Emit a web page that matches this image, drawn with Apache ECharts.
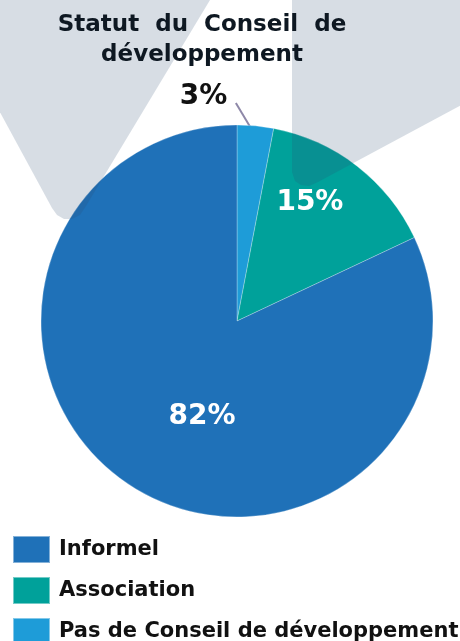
<!DOCTYPE html>
<html>
<head>
<meta charset="utf-8">
<script src="https://cdn.jsdelivr.net/npm/echarts@6/dist/echarts.min.js"></script>
<style>
  html, body { margin: 0; padding: 0; background: #ffffff; }
  #chart { width: 460px; height: 641px; }
</style>
</head>
<body>
<div id="chart"></div>
<script>
// Slices in drawing order, clockwise from 12 o'clock
const categories = ['Pas de Conseil de développement', 'Association', 'Informel'];
const values = [3, 15, 82];
const colors = ['#1e9cd8', '#00a19a', '#1f71b8'];
// Legend lists the statuses in this order
const legendOrder = ['Informel', 'Association', 'Pas de Conseil de développement'];

const FONT = '"DejaVu Sans", Verdana, sans-serif';
const CX = 237, CY = 321, R = 196;

// Label placement relative to each slice's mid angle: [radius fraction, angle shift (deg)]
const labelPlace = [[1.158, -13.9], [0.71, -6.2], [0.521, -12.4]];

const total = values.reduce((a, b) => a + b, 0);
const midAngles = [];
let acc = 0;
values.forEach(v => { midAngles.push((acc + v / 2) / total * 360); acc += v; });

function polar(rf, deg) {
  const a = deg * Math.PI / 180;
  return [CX + rf * R * Math.sin(a), CY - rf * R * Math.cos(a)];
}

const pieData = categories.map((name, i) => {
  const outside = values[i] < 5;
  return {
    name: name,
    value: values[i],
    itemStyle: { color: colors[i] },
    label: {
      position: outside ? 'outside' : 'inside',
      color: outside ? '#111111' : '#ffffff'
    },
    labelLine: { show: outside }
  };
});

// Translucent decorative bands laid over the background
const bandFill = 'rgba(44,74,110,0.19)';
const leftBand = [[-5, -5], [213, -5], [86, 206], [80, 215], [72, 219], [64, 219], [57, 215], [52, 208], [-5, 103]];
const rightBand = [[292, -5], [465, -5], [465, 103], [318, 182], [309, 186], [301, 185], [295, 181], [292, 172]];

const chart = echarts.init(document.getElementById('chart'), null, { renderer: 'canvas' });

chart.setOption({
  animation: false,
  backgroundColor: '#ffffff',
  title: {
    text: 'Statut  du  Conseil  de\ndéveloppement',
    left: 202,
    top: 10,
    z: 200,
    textAlign: 'center',
    padding: 0,
    textStyle: {
      fontFamily: FONT,
      fontSize: 23,
      fontWeight: 'bold',
      color: '#0e1822',
      lineHeight: 30
    }
  },
  legend: {
    data: legendOrder,
    orient: 'vertical',
    left: 12,
    top: 535,
    height: 140,
    padding: 0,
    itemWidth: 37,
    itemHeight: 27,
    itemGap: 12,
    icon: 'rect',
    selectedMode: false,
    textStyle: {
      fontFamily: FONT,
      fontSize: 21,
      fontWeight: 'bold',
      color: '#111111',
      padding: [0, 0, 0, 4]
    }
  },
  graphic: {
    elements: [
      { type: 'polygon', z: 100, silent: true, shape: { points: leftBand }, style: { fill: bandFill } },
      { type: 'polygon', z: 100, silent: true, shape: { points: rightBand }, style: { fill: bandFill } }
    ]
  },
  series: [{
    type: 'pie',
    center: [CX, CY],
    radius: R,
    startAngle: 90,
    clockwise: true,
    avoidLabelOverlap: false,
    emphasis: { disabled: true },
    itemStyle: { borderColor: 'rgba(255,255,255,0.45)', borderWidth: 0.6 },
    label: {
      show: true,
      formatter: '{c}%',
      fontFamily: FONT,
      fontWeight: 'bold',
      fontSize: 28
    },
    labelLine: {
      show: false,
      lineStyle: { color: '#8e88a8', width: 2 }
    },
    labelLayout: function (params) {
      const i = params.dataIndex;
      const p = labelPlace[i];
      const pos = polar(p[0], midAngles[i] + p[1]);
      const out = { x: pos[0], y: pos[1], align: 'center', verticalAlign: 'middle' };
      if (values[i] < 5) {
        out.labelLinePoints = [
          polar(0.977, midAngles[i] - 0.9),
          polar(1.112, midAngles[i] - 5.7)
        ];
      }
      return out;
    },
    data: pieData
  }]
});
</script>
</body>
</html>
